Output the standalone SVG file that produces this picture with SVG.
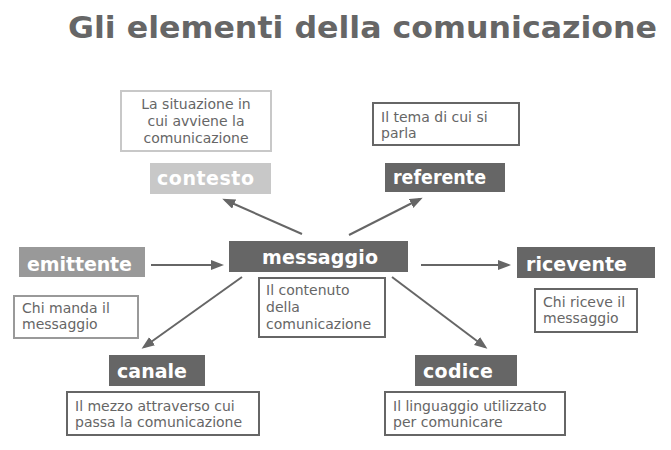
<svg xmlns="http://www.w3.org/2000/svg" width="671" height="450" viewBox="0 0 671 450">
<defs>
<marker id="ah" markerUnits="userSpaceOnUse" markerWidth="14" markerHeight="12" refX="10" refY="5" orient="auto">
<path d="M0,0 L13,5 L0,10 z" fill="#666"/>
</marker>
<style>
.t{font-family:"DejaVu Sans",Verdana,sans-serif;font-weight:bold;fill:#666}
.lbl{font-family:"DejaVu Sans",Verdana,sans-serif;font-weight:bold;font-size:19px;fill:#fff}
.d{font-family:"DejaVu Sans",Verdana,sans-serif;font-size:14px;fill:#666}
.dark{fill:#666}
.desc{fill:#fff;stroke:#666;stroke-width:2}
.con line{stroke:#666;stroke-width:2;marker-end:url(#ah)}
</style>
</defs>
<rect width="671" height="450" fill="#fff"/>
<text class="t" x="68" y="38" font-size="31" textLength="589" lengthAdjust="spacingAndGlyphs">Gli elementi della comunicazione</text>

<g class="con">
<line x1="302" y1="234" x2="225" y2="200"/>
<line x1="349" y1="235" x2="420" y2="199"/>
<line x1="151" y1="265" x2="221" y2="265"/>
<line x1="421" y1="265" x2="508" y2="265"/>
<line x1="242" y1="277" x2="144" y2="347"/>
<line x1="392" y1="277" x2="485" y2="347"/>
</g>

<g id="contesto">
<rect x="121" y="91" width="150" height="60" fill="#fff" stroke="#c8c8c8" stroke-width="2"/>
<text class="d" text-anchor="middle"><tspan x="196" y="109">La situazione in</tspan><tspan x="196" y="126">cui avviene la</tspan><tspan x="196" y="143">comunicazione</tspan></text>
<rect x="150" y="163" width="121" height="31" fill="#c8c8c8"/>
<text class="lbl" x="157" y="185" textLength="97" lengthAdjust="spacing">contesto</text>
</g>

<g id="referente">
<rect x="373" y="103" width="146" height="42" class="desc"/>
<text class="d"><tspan x="381" y="122">Il tema di cui si</tspan><tspan x="381" y="138">parla</tspan></text>
<rect x="385" y="163" width="120" height="29" class="dark"/>
<text class="lbl" x="393" y="184" textLength="93" lengthAdjust="spacingAndGlyphs">referente</text>
</g>

<g id="emittente">
<rect x="19" y="247" width="126" height="30" fill="#999"/>
<text class="lbl" x="27" y="271" textLength="105" lengthAdjust="spacing">emittente</text>
<rect x="14" y="296" width="124" height="42" fill="#fff" stroke="#999" stroke-width="2"/>
<text class="d"><tspan x="22" y="313">Chi manda il</tspan><tspan x="22" y="329">messaggio</tspan></text>
</g>

<g id="messaggio">
<rect x="229" y="241" width="179" height="31" class="dark"/>
<text class="lbl" x="262" y="264" textLength="116" lengthAdjust="spacing">messaggio</text>
<rect x="259" y="278" width="126" height="59" class="desc"/>
<text class="d"><tspan x="266" y="295">Il contenuto</tspan><tspan x="266" y="312">della</tspan><tspan x="266" y="329">comunicazione</tspan></text>
</g>

<g id="ricevente">
<rect x="517" y="247" width="138" height="31" class="dark"/>
<text class="lbl" x="526" y="271" textLength="101" lengthAdjust="spacing">ricevente</text>
<rect x="535" y="289" width="102" height="43" class="desc"/>
<text class="d"><tspan x="543" y="307">Chi riceve il</tspan><tspan x="543" y="323">messaggio</tspan></text>
</g>

<g id="canale">
<rect x="109" y="355" width="96" height="31" class="dark"/>
<text class="lbl" x="117" y="378" textLength="70" lengthAdjust="spacing">canale</text>
<rect x="67" y="392" width="192" height="43" class="desc"/>
<text class="d"><tspan x="75" y="411">Il mezzo attraverso cui</tspan><tspan x="75" y="427">passa la comunicazione</tspan></text>
</g>

<g id="codice">
<rect x="415" y="355" width="102" height="31" class="dark"/>
<text class="lbl" x="423" y="378" textLength="70" lengthAdjust="spacing">codice</text>
<rect x="385" y="392" width="180" height="43" class="desc"/>
<text class="d"><tspan x="393" y="411">Il linguaggio utilizzato</tspan><tspan x="393" y="427">per comunicare</tspan></text>
</g>
</svg>
